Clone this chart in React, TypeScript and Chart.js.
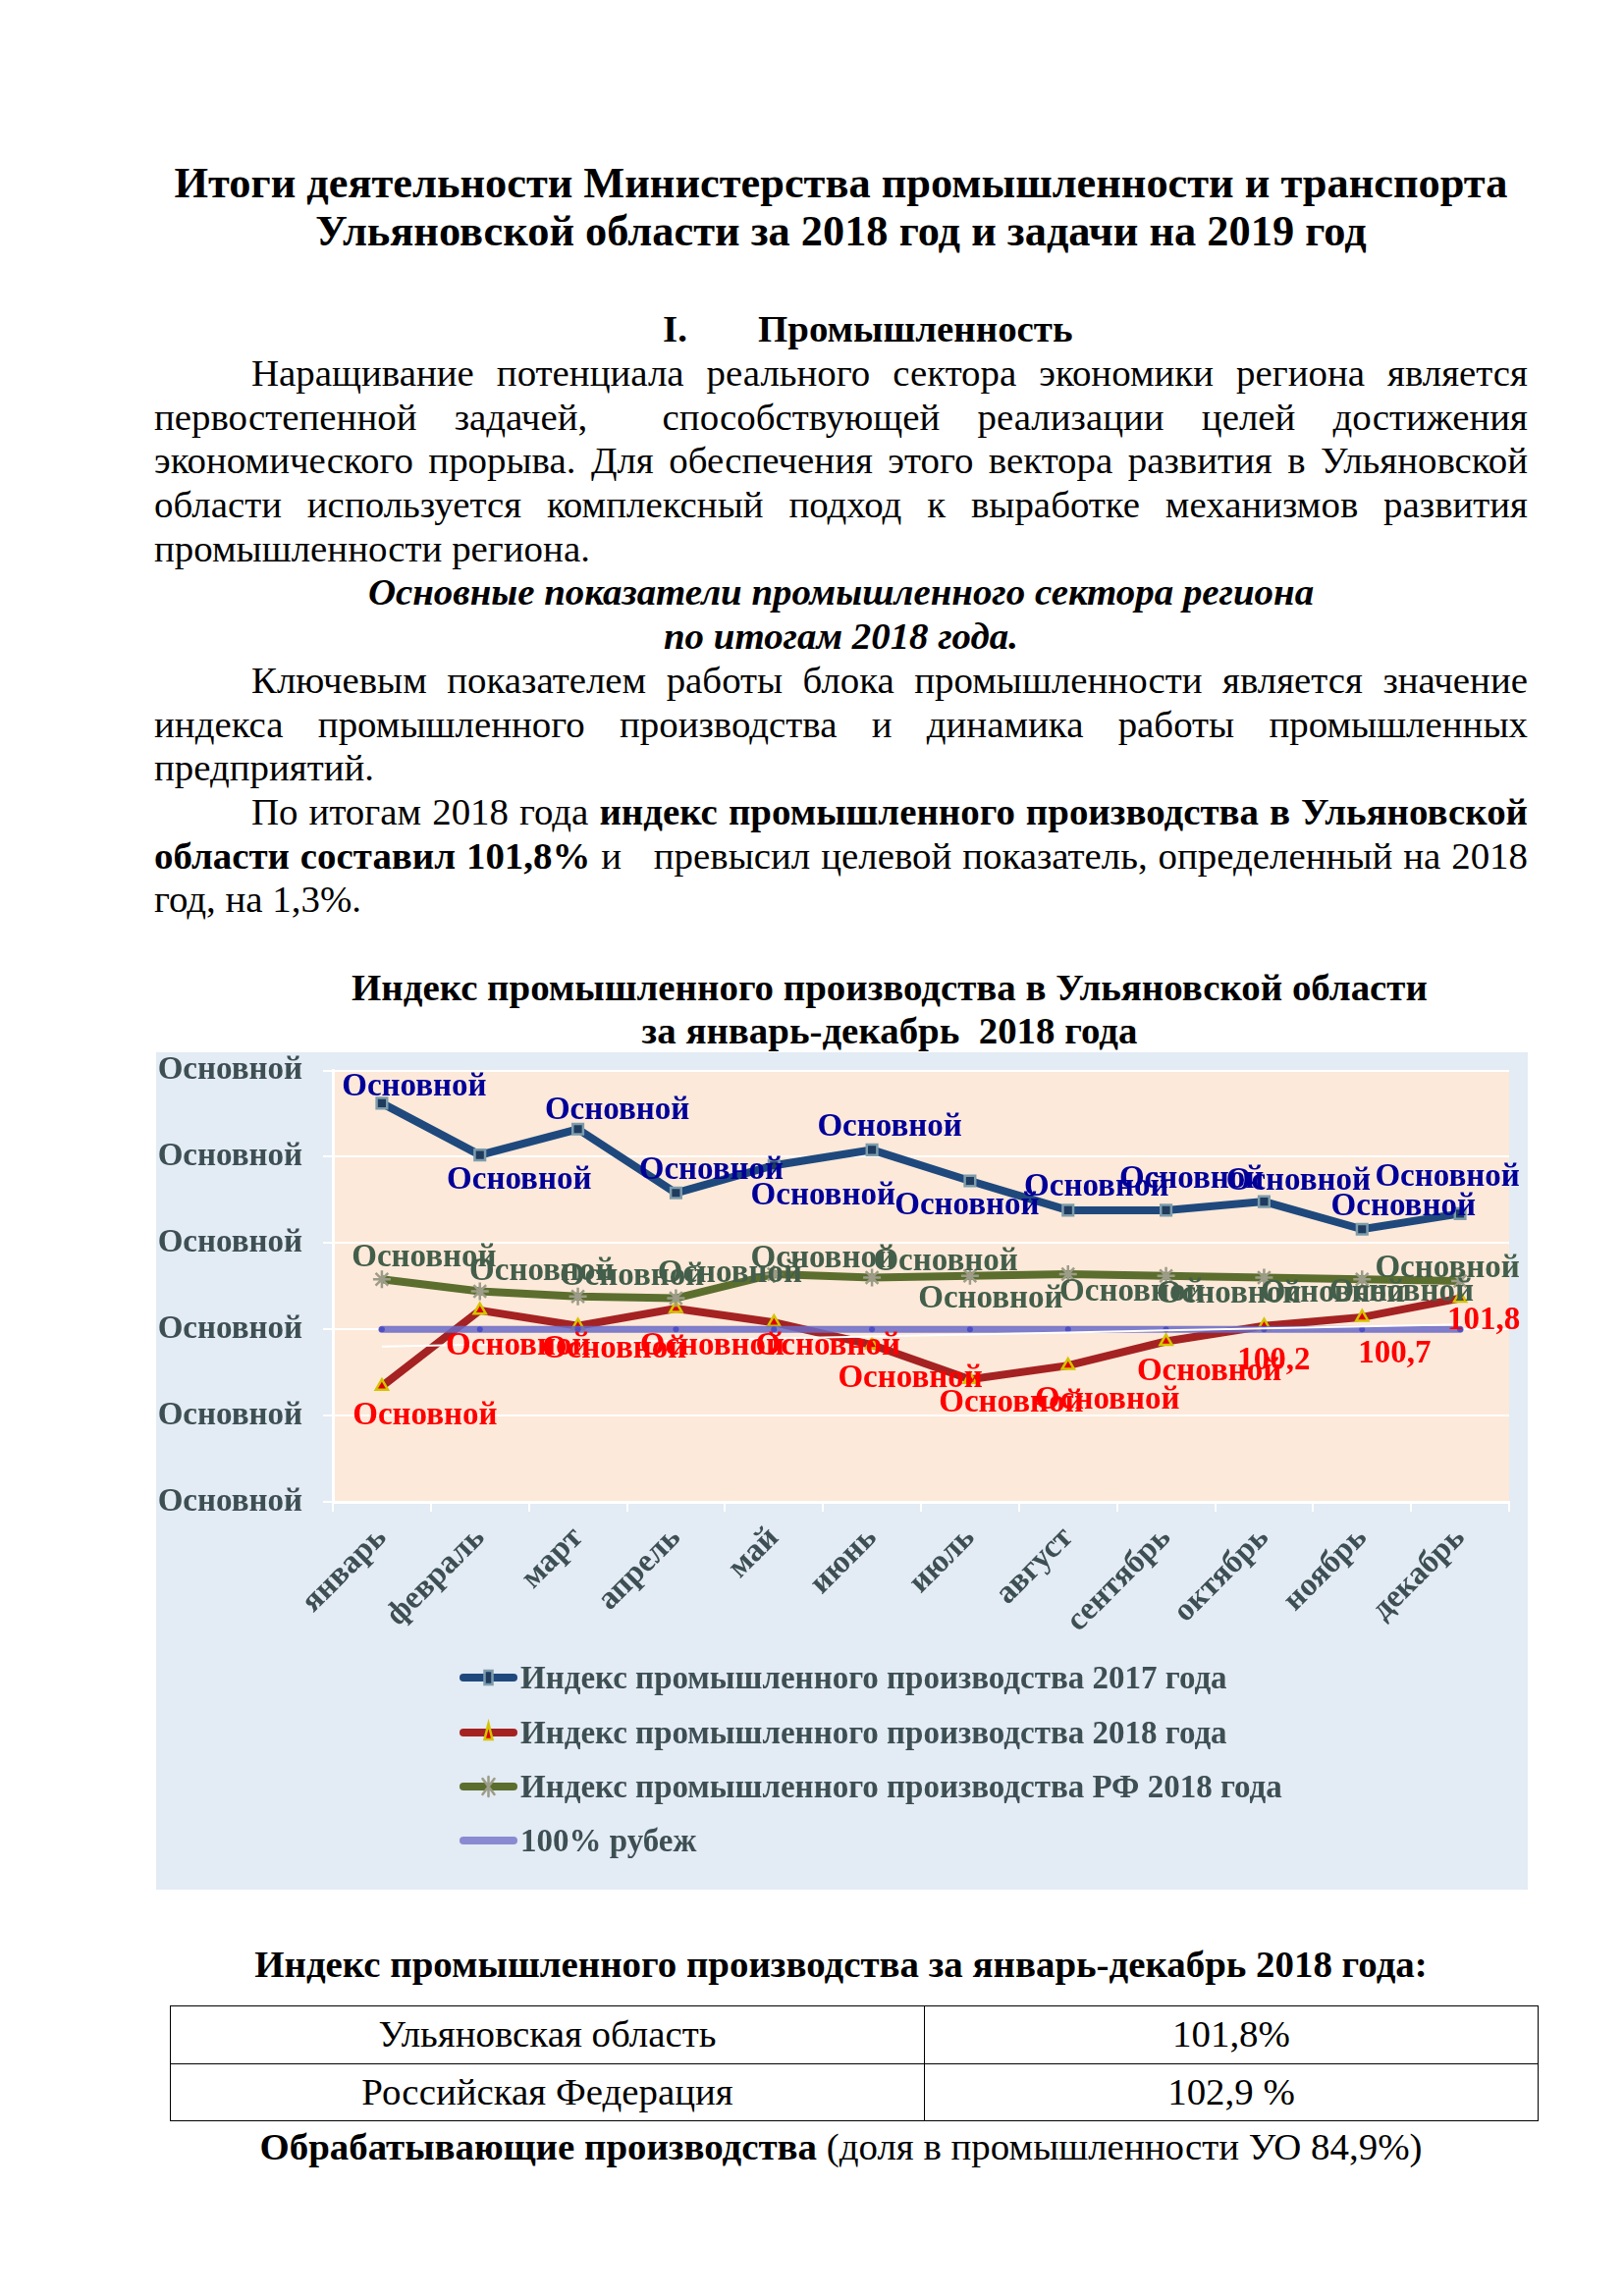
import React, { useEffect, useRef } from "react";
import { Chart, registerables } from "chart.js";

Chart.register(...registerables);

// ---------- data ----------
const months = ["январь", "февраль", "март", "апрель", "май", "июнь", "июль", "август", "сентябрь", "октябрь", "ноябрь", "декабрь"];
const index2017 = [113.1, 110.1, 111.6, 107.9, 109.5, 110.4, 108.6, 106.9, 106.9, 107.4, 105.8, 106.7];
const index2018 = [96.7, 101.1, 100.2, 101.2, 100.4, 99.1, 97.1, 97.9, 99.3, 100.2, 100.7, 101.8];
const indexRF2018 = [102.9, 102.2, 101.9, 101.8, 103.2, 103.0, 103.1, 103.2, 103.1, 103.0, 102.9, 102.8];
const threshold100 = [100, 100, 100, 100, 100, 100, 100, 100, 100, 100, 100, 100];
const yTicks = [90, 95, 100, 105, 110, 115];
const yTickText = "Основной";

const seriesNames = [
  "Индекс промышленного производства 2017 года",
  "Индекс промышленного производства 2018 года",
  "Индекс промышленного производства РФ 2018 года",
  "100% рубеж",
];

const labels2017 = ["Основной", "Основной", "Основной", "Основной", "Основной", "Основной", "Основной", "Основной", "Основной", "Основной", "Основной", "Основной"];
const labels2018 = ["Основной", "Основной", "Основной", "Основной", "Основной", "Основной", "Основной", "Основной", "Основной", "100,2", "100,7", "101,8"];
const labelsRF = ["Основной", "Основной", "Основной", "Основной", "Основной", "Основной", "Основной", "Основной", "Основной", "Основной", "Основной", "Основной"];

// label placement relative to its point: [dx of text centre, dy of baseline]
const place2017 = [[33, -8], [40, 34], [40, -10], [36, -14], [50, 40], [18, -14], [-3, 34], [29, -15], [26, -23], [35, -12], [42, -14], [-13, -28]];
const place2018 = [[44, 39], [39, 45], [37, 32], [37, 47], [55, 33], [39, 43], [42, 33], [40, 44], [44, 39], [10, 44], [33, 46], [24, 31]];
const placeRF = [[43, -13], [63, -12], [55, -12], [55, -17], [50, -7], [75, -7], [21, 32], [65, 27], [64, 27], [70, 25], [40, 22], [-13, -4]];

// linear trendline of the 2018 series (as in the original chart)
function linearTrend(values: number[]): number[] {
  const n = values.length;
  const mx = (n - 1) / 2;
  const my = values.reduce((a, b) => a + b, 0) / n;
  let sxy = 0, sxx = 0;
  values.forEach((v, i) => { sxy += (i - mx) * (v - my); sxx += (i - mx) * (i - mx); });
  const b = sxy / sxx;
  return values.map((_, i) => my + b * (i - mx));
}

const SERIF = '"Liberation Serif", "Times New Roman", serif';
const AXIS_COLOR = "#3d4f52";
const OUTER_BG = "#e3ebf4";
const PLOT_BG = "#fde9d9";

const colors = {
  l2017: "#1f497d",
  l2018: "#a52222",
  lRF: "#5b6e2e",
  l100: "rgba(104,104,196,0.85)",
};

function drawMarker(ctx: CanvasRenderingContext2D, kind: string, x: number, y: number) {
  ctx.save();
  if (kind === "rect") {
    ctx.fillStyle = "#1f3b5e";
    ctx.strokeStyle = "#7d9cab";
    ctx.lineWidth = 2.5;
    ctx.fillRect(x - 4, y - 7, 8, 14);
    ctx.strokeRect(x - 4, y - 7, 8, 14);
  } else if (kind === "triangle") {
    ctx.fillStyle = "#dd0000";
    ctx.strokeStyle = "#d4c400";
    ctx.lineWidth = 2.5;
    ctx.beginPath();
    ctx.moveTo(x, y - 9);
    ctx.lineTo(x + 4, y + 7);
    ctx.lineTo(x - 4, y + 7);
    ctx.closePath();
    ctx.fill();
    ctx.stroke();
  } else if (kind === "star") {
    ctx.strokeStyle = "#9c9c88";
    ctx.lineWidth = 2.5;
    ctx.beginPath();
    ctx.moveTo(x, y - 10); ctx.lineTo(x, y + 10);
    ctx.moveTo(x - 6, y - 8); ctx.lineTo(x + 6, y + 8);
    ctx.moveTo(x + 6, y - 8); ctx.lineTo(x - 6, y + 8);
    ctx.stroke();
  }
  ctx.restore();
}

const bgPlugin = {
  id: "bgPlugin",
  beforeDraw(chart: any) {
    const { ctx, chartArea } = chart;
    ctx.save();
    ctx.fillStyle = OUTER_BG;
    ctx.fillRect(0, 0, chart.width, chart.height);
    ctx.fillStyle = PLOT_BG;
    ctx.fillRect(chartArea.left, chartArea.top, chartArea.right - chartArea.left, chartArea.bottom - chartArea.top);
    ctx.restore();
  },
};

const labelSets = [
  { ds: 0, texts: labels2017, place: place2017, color: "#000099" },
  { ds: 1, texts: labels2018, place: place2018, color: "#ff0000" },
  { ds: 2, texts: labelsRF, place: placeRF, color: "#435e4a" },
];

const dataLabelPlugin = {
  id: "dataLabelPlugin",
  afterDatasetsDraw(chart: any) {
    const ctx = chart.ctx as CanvasRenderingContext2D;
    ctx.save();
    ctx.font = `bold 33px ${SERIF}`;
    ctx.textAlign = "center";
    ctx.textBaseline = "alphabetic";
    labelSets.forEach((set) => {
      const meta = chart.getDatasetMeta(set.ds);
      ctx.fillStyle = set.color;
      meta.data.forEach((pt: any, i: number) => {
        const [dx, dy] = set.place[i];
        ctx.fillText(set.texts[i], pt.x + dx, pt.y + dy);
      });
    });
    ctx.restore();
  },
};

const legendRows = [
  { name: seriesNames[0], color: colors.l2017, width: 8, marker: "rect" },
  { name: seriesNames[1], color: colors.l2018, width: 8, marker: "triangle" },
  { name: seriesNames[2], color: colors.lRF, width: 8, marker: "star" },
  { name: seriesNames[3], color: "#8a8ad2", width: 8, marker: "none" },
];

const legendPlugin = {
  id: "customLegend",
  afterDraw(chart: any) {
    const ctx = chart.ctx as CanvasRenderingContext2D;
    const x0 = 309, x1 = 368, tx = 371;
    const rowY = [637, 693, 748, 803];
    ctx.save();
    ctx.font = `bold 33px ${SERIF}`;
    ctx.textAlign = "left";
    ctx.textBaseline = "middle";
    legendRows.forEach((r, i) => {
      const y = rowY[i];
      ctx.strokeStyle = r.color;
      ctx.lineWidth = r.width;
      ctx.lineCap = "round";
      ctx.beginPath();
      ctx.moveTo(x0 + 4, y);
      ctx.lineTo(x1 - 4, y);
      ctx.stroke();
      drawMarker(ctx, r.marker, (x0 + x1) / 2, y);
      ctx.fillStyle = AXIS_COLOR;
      ctx.fillText(r.name, tx, y + 2);
    });
    ctx.restore();
  },
};

function IndexChart() {
  const ref = useRef<HTMLCanvasElement>(null);
  useEffect(() => {
    const canvas = ref.current;
    if (!canvas) return;
    const tickFont = { family: SERIF, size: 33, weight: "bold" as const, lineHeight: 1 };
    const chart = new Chart(canvas, {
      type: "line",
      data: {
        labels: months,
        datasets: [
          {
            label: seriesNames[0],
            data: index2017,
            borderColor: colors.l2017,
            borderWidth: 8,
            pointStyle: "rect",
            pointRadius: 7.5,
            pointBackgroundColor: "#1f3b5e",
            pointBorderColor: "#7d9cab",
            pointBorderWidth: 2.5,
            order: 4,
          },
          {
            label: seriesNames[1],
            data: index2018,
            borderColor: colors.l2018,
            borderWidth: 8,
            pointStyle: "triangle",
            pointRadius: 7,
            pointBackgroundColor: "#dd0000",
            pointBorderColor: "#d4c400",
            pointBorderWidth: 2.5,
            order: 3,
          },
          {
            label: seriesNames[2],
            data: indexRF2018,
            borderColor: colors.lRF,
            borderWidth: 8,
            pointStyle: "star",
            pointRadius: 9,
            pointBorderColor: "#9c9c88",
            pointBorderWidth: 2.5,
            order: 2,
          },
          {
            label: seriesNames[3],
            data: threshold100,
            borderColor: colors.l100,
            borderWidth: 7,
            borderCapStyle: "round",
            pointStyle: "circle",
            pointRadius: 3,
            pointBackgroundColor: "#4f4fc4",
            pointBorderWidth: 0,
            order: 1,
          },
          {
            label: "Линейная (2018)",
            data: linearTrend(index2018),
            borderColor: "#ffffff",
            borderWidth: 2,
            pointRadius: 0,
            order: 0,
          },
        ],
      },
      options: {
        responsive: false,
        animation: false,
        devicePixelRatio: 1,
        layout: { padding: { top: 18.5, right: 19, left: 0, bottom: 0 } },
        plugins: { legend: { display: false }, tooltip: { enabled: false }, title: { display: false } },
        elements: { line: { tension: 0 } },
        scales: {
          x: {
            offset: true,
            grid: { display: true, drawOnChartArea: false, drawTicks: true, tickLength: 10, color: "#ffffff", lineWidth: 2, offset: true },
            border: { display: true, color: "#ffffff", width: 3 },
            ticks: { minRotation: 45, maxRotation: 45, autoSkip: false, padding: 10, color: AXIS_COLOR, font: tickFont },
            afterFit: (s: any) => { s.height = 395; s.paddingLeft = 0; s.paddingRight = 0; },
          },
          y: {
            min: yTicks[0],
            max: yTicks[yTicks.length - 1],
            afterBuildTicks: (s: any) => { s.ticks = yTicks.map((v) => ({ value: v })); },
            ticks: { padding: 21, color: AXIS_COLOR, font: tickFont, callback: () => yTickText },
            grid: { color: "#ffffff", lineWidth: 2, tickLength: 10, drawTicks: true },
            border: { display: true, color: "#ffffff", width: 3 },
            afterFit: (s: any) => { s.width = 180; s.paddingTop = 0; s.paddingBottom = 0; },
          },
        },
      },
      plugins: [bgPlugin, dataLabelPlugin, legendPlugin],
    });
    return () => chart.destroy();
  }, []);
  return (
    <canvas
      ref={ref}
      width={1397}
      height={853}
      style={{ position: "absolute", left: 159, top: 1072, width: 1397, height: 853 }}
    />
  );
}

// ---------- page text ----------
const LH = 44.7;
const BODY = 38.9;
const L = 157;
const W = 1399;

function Line(props: {
  c: number; children: React.ReactNode; align?: "justify" | "left" | "center";
  indent?: number; left?: number; width?: number; size?: number; lh?: number;
  bold?: boolean; italic?: boolean;
}) {
  const { c, children, align = "justify", indent = 0, left = L, width = W, size = BODY, lh = LH, bold, italic } = props;
  return (
    <div
      style={{
        position: "absolute",
        left,
        top: c - lh / 2,
        width,
        boxSizing: "border-box",
        paddingLeft: indent,
        fontSize: size,
        lineHeight: `${lh}px`,
        height: lh,
        textAlign: align,
        textAlignLast: align as any,
        fontWeight: bold ? "bold" : "normal",
        fontStyle: italic ? "italic" : "normal",
        whiteSpace: "normal",
        overflow: "visible",
      }}
    >
      {children}
    </div>
  );
}

const y0 = 380.3;
const yk = (k: number) => y0 + LH * k;

export default function App() {
  return (
    <div
      style={{
        position: "absolute",
        left: 0,
        top: 0,
        width: 1654,
        height: 2339,
        background: "#ffffff",
        color: "#000000",
        fontFamily: SERIF,
        overflow: "hidden",
      }}
    >
      <Line c={186.4} align="center" bold size={44.4} lh={49.3}>
        Итоги деятельности Министерства промышленности и транспорта
      </Line>
      <Line c={235.7} align="center" bold size={44.4} lh={49.3}>
        Ульяновской области за 2018 год и задачи на 2019 год
      </Line>

      <Line c={yk(-1)} align="left" left={675} width={100} bold>I.</Line>
      <Line c={yk(-1)} align="left" left={772} width={600} bold>Промышленность</Line>

      <Line c={yk(0)} indent={99}>Наращивание потенциала реального сектора экономики региона является</Line>
      <Line c={yk(1)}>первостепенной задачей,&nbsp; способствующей реализации целей достижения</Line>
      <Line c={yk(2)}>экономического прорыва. Для обеспечения этого вектора развития в Ульяновской</Line>
      <Line c={yk(3)}>области используется комплексный подход к выработке механизмов развития</Line>
      <Line c={yk(4)} align="left">промышленности региона.</Line>

      <Line c={yk(5)} align="center" bold italic>Основные показатели промышленного сектора региона</Line>
      <Line c={yk(6)} align="center" bold italic>по итогам 2018 года.</Line>

      <Line c={yk(7)} indent={99}>Ключевым показателем работы блока промышленности является значение</Line>
      <Line c={yk(8)}>индекса промышленного производства и динамика работы промышленных</Line>
      <Line c={yk(9)} align="left">предприятий.</Line>

      <Line c={yk(10)} indent={99}>
        По итогам 2018 года <b>индекс промышленного производства в Ульяновской</b>
      </Line>
      <Line c={yk(11)}>
        <b>области составил 101,8%</b> и&nbsp;&nbsp; превысил целевой показатель, определенный на 2018
      </Line>
      <Line c={yk(12)} align="left">год, на 1,3%.</Line>

      <Line c={yk(14)} align="center" left={256} width={1300} bold>
        Индекс промышленного производства в Ульяновской области
      </Line>
      <Line c={yk(15)} align="center" left={256} width={1300} bold>
        за январь-декабрь&nbsp; 2018 года
      </Line>

      <IndexChart />

      <Line c={2001} align="center" bold>
        Индекс промышленного производства за январь-декабрь 2018 года:
      </Line>

      <table
        style={{
          position: "absolute",
          left: 173,
          top: 2043,
          width: 1393,
          borderCollapse: "collapse",
          fontSize: BODY,
          fontFamily: SERIF,
          tableLayout: "fixed",
        }}
      >
        <colgroup>
          <col style={{ width: 768 }} />
          <col style={{ width: 625 }} />
        </colgroup>
        <tbody>
          <tr style={{ height: 58.5 }}>
            <td style={{ border: "1.5px solid #000", textAlign: "center", padding: 0, lineHeight: "44.7px" }}>Ульяновская область</td>
            <td style={{ border: "1.5px solid #000", textAlign: "center", padding: 0, lineHeight: "44.7px" }}>101,8%</td>
          </tr>
          <tr style={{ height: 58.5 }}>
            <td style={{ border: "1.5px solid #000", textAlign: "center", padding: 0, lineHeight: "44.7px" }}>Российская Федерация</td>
            <td style={{ border: "1.5px solid #000", textAlign: "center", padding: 0, lineHeight: "44.7px" }}>102,9 %</td>
          </tr>
        </tbody>
      </table>

      <Line c={2187} align="center">
        <b>Обрабатывающие производства</b> (доля в промышленности УО 84,9%)
      </Line>
    </div>
  );
}
